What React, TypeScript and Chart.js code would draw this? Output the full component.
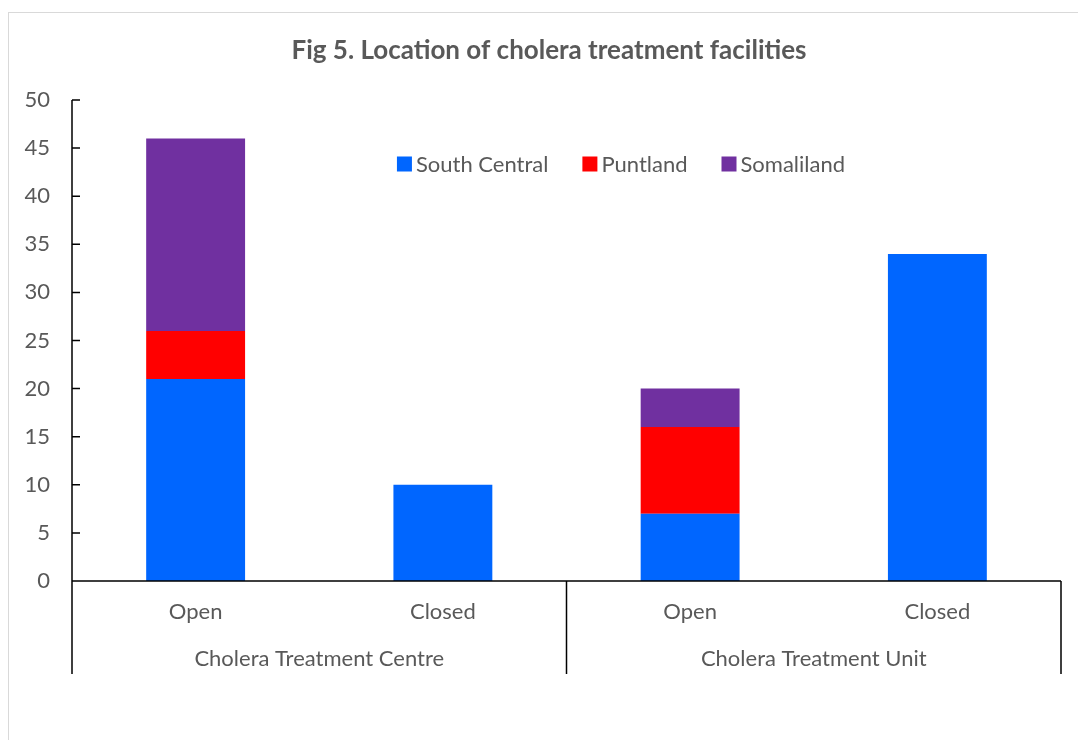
import React, { useEffect, useRef } from "react";
import { Chart, registerables } from "chart.js";

Chart.register(...registerables);

const categories = ["Open", "Closed", "Open", "Closed"];
const groups = ["Cholera Treatment Centre", "Cholera Treatment Unit"];
const groupSize = 2;
const southCentral = [21, 10, 7, 34];
const puntland = [5, 0, 9, 0];
const somaliland = [20, 0, 4, 0];
const seriesNames = ["South Central", "Puntland", "Somaliland"];
const seriesColors = ["#0066FF", "#FF0000", "#7030A0"];
const titleText = "Fig 5. Location of cholera treatment facilities";

const FONT = "Lato";
const TEXT = "#595959";
const CW = 1072;
const CH = 727;

const overlay = {
  id: "overlay",
  afterDraw(chart: any) {
    const ctx = chart.ctx;
    const { left, right, top, bottom } = chart.chartArea;
    const xs = chart.scales.x;
    const ys = chart.scales.y;
    const lowY = 661;
    ctx.save();
    // title
    ctx.fillStyle = TEXT;
    ctx.font = `bold 26px ${FONT}`;
    ctx.textAlign = "center";
    ctx.textBaseline = "middle";
    ctx.fillText(titleText, 540, 38);

    // axes
    ctx.strokeStyle = "#000";
    ctx.lineWidth = 1.5;
    ctx.beginPath();
    ctx.moveTo(left, top);
    ctx.lineTo(left, lowY);
    ctx.moveTo(left, bottom);
    ctx.lineTo(right, bottom);
    ctx.moveTo(right, bottom);
    ctx.lineTo(right, lowY);
    for (let g = 1; g < groups.length; g++) {
      const a = xs.getPixelForValue(g * groupSize - 1);
      const b = xs.getPixelForValue(g * groupSize);
      const x = (a + b) / 2;
      ctx.moveTo(x, bottom);
      ctx.lineTo(x, lowY);
    }
    ys.ticks.forEach((t: any) => {
      const y = ys.getPixelForValue(t.value);
      ctx.moveTo(left, y);
      ctx.lineTo(left + 8, y);
    });
    ctx.stroke();

    // category labels
    ctx.font = `22px ${FONT}`;
    ctx.fillStyle = TEXT;
    categories.forEach((c, i) => {
      ctx.fillText(c, xs.getPixelForValue(i), 599);
    });
    groups.forEach((g, gi) => {
      const a = xs.getPixelForValue(gi * groupSize);
      const b = xs.getPixelForValue(gi * groupSize + groupSize - 1);
      ctx.fillText(g, (a + b) / 2, 646);
    });

    // legend
    ctx.textAlign = "left";
    const box = 15;
    const gapText = 4;
    const gapItem = 34;
    const widths = seriesNames.map((n) => ctx.measureText(n).width);
    let total = 0;
    widths.forEach((w, i) => {
      total += box + gapText + w + (i < widths.length - 1 ? gapItem : 0);
    });
    let x = 612 - total / 2;
    const ly = 151;
    seriesNames.forEach((n, i) => {
      ctx.fillStyle = seriesColors[i];
      ctx.fillRect(x, ly - box / 2, box, box);
      ctx.fillStyle = TEXT;
      ctx.fillText(n, x + box + gapText, ly + 1);
      x += box + gapText + widths[i] + gapItem;
    });
    ctx.restore();
  },
};

export default function App() {
  const ref = useRef<HTMLCanvasElement>(null);
  useEffect(() => {
    const values = [southCentral, puntland, somaliland];
    const chart = new Chart(ref.current!, {
      type: "bar",
      data: {
        labels: categories,
        datasets: seriesNames.map((n, i) => ({
          label: n,
          data: values[i],
          backgroundColor: seriesColors[i],
          borderWidth: 0,
          barPercentage: 0.4,
          categoryPercentage: 1,
        })),
      },
      options: {
        responsive: false,
        animation: false,
        layout: { padding: { top: 87, right: 20, bottom: 159, left: 0 } },
        plugins: {
          legend: { display: false },
          title: { display: false },
          tooltip: { enabled: false },
        },
        scales: {
          x: { stacked: true, display: false },
          y: {
            stacked: true,
            min: 0,
            max: 50,
            ticks: {
              stepSize: 5,
              color: TEXT,
              font: { family: FONT, size: 22 },
              padding: 22,
            },
            grid: { display: false, drawTicks: false },
            border: { display: false },
            afterFit: (s: any) => {
              s.width = 63;
            },
          },
        },
      },
      plugins: [overlay],
    });
    return () => chart.destroy();
  }, []);
  return (
    <div style={{ position: "fixed", left: 0, top: 0, width: "100vw", height: "100vh", overflow: "hidden", background: "#fff" }}>
      <div style={{ position: "absolute", left: 8, top: 12, border: "1px solid #d9d9d9", width: CW, height: CH }}>
        <canvas ref={ref} width={CW} height={CH} style={{ display: "block" }} />
      </div>
    </div>
  );
}
